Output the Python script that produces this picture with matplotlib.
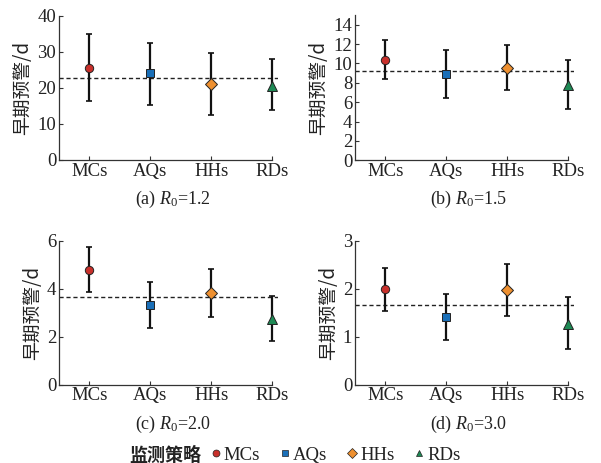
import numpy as np
import matplotlib.pyplot as plt
from matplotlib.lines import Line2D

plt.rcParams['font.family'] = ['Liberation Serif', 'Noto Sans CJK SC']
plt.rcParams['mathtext.fontset'] = 'custom'
plt.rcParams['mathtext.it'] = 'Liberation Serif:italic'
plt.rcParams['mathtext.rm'] = 'Liberation Serif'

strategies = ['MCs', 'AQs', 'HHs', 'RDs']
r0_labels = ['(a) $R_0$=1.2', '(b) $R_0$=1.5', '(c) $R_0$=2.0', '(d) $R_0$=3.0']

# early warning days: mean, upper and lower ends of the bars, overall mean
mean_a = [25.5, 24.1, 21.0, 20.6]
upper_a = [34.9, 32.6, 29.7, 28.0]
lower_a = [16.4, 15.4, 12.4, 13.9]
avg_a = 22.9

mean_b = [10.4, 8.9, 9.55, 7.75]
upper_b = [12.37, 11.43, 11.95, 10.36]
lower_b = [8.42, 6.38, 7.28, 5.34]
avg_b = 9.2

mean_c = [4.78, 3.33, 3.81, 2.75]
upper_c = [5.74, 4.29, 4.81, 3.69]
lower_c = [3.85, 2.37, 2.81, 1.81]
avg_c = 3.67

mean_d = [1.99, 1.42, 1.97, 1.26]
upper_d = [2.44, 1.90, 2.51, 1.82]
lower_d = [1.54, 0.94, 1.44, 0.74]
avg_d = 1.66

ylims = [40, 15, 6, 3]
yticks = [np.arange(0, 41, 10), np.arange(0, 15, 2), np.arange(0, 7, 2), np.arange(0, 4, 1)]

colors = ['#c8302b', '#1a6fb8', '#ee9030', '#1e8a55']
markers = ['o', 's', 'D', '^']
msizes = [6, 6, 6.5, 6.5]

panels = [(mean_a, upper_a, lower_a, avg_a),
          (mean_b, upper_b, lower_b, avg_b),
          (mean_c, upper_c, lower_c, avg_c),
          (mean_d, upper_d, lower_d, avg_d)]

W, H = 601, 463
fig = plt.figure(figsize=(W / 100, H / 100), dpi=100)

# axes boxes in pixels: left, top of ylim, bottom
boxes = [(59, 16, 160), (355, 15, 160.3), (59, 240.7, 384.7), (355, 240.7, 384.7)]
ax_w = 219

x = np.arange(1, 5)
for i, (m, up, lo, avg) in enumerate(panels):
    left, top, bottom = boxes[i]
    ax = fig.add_axes((left / W, 1 - bottom / H, ax_w / W, (bottom - top) / H))
    m = np.array(m)
    yerr = [m - np.array(lo), np.array(up) - m]
    ax.axhline(avg, color='#222222', ls=(0, (3, 2)), lw=1.0, zorder=1)
    for j in range(4):
        ax.errorbar(x[j], m[j], yerr=[[yerr[0][j]], [yerr[1][j]]], fmt='none',
                    ecolor='#111111', elinewidth=1.6, capsize=2.2, capthick=1.2, zorder=2)
        ax.plot(x[j], m[j], marker=markers[j], ms=msizes[j], color=colors[j],
                mec='#222222', mew=0.7, ls='none', zorder=3)
    ax.set_xlim(0.5, 4.1)
    ax.set_ylim(0, ylims[i])
    ax.set_xticks(x)
    ax.set_xticklabels(strategies)
    ax.set_yticks(yticks[i])
    ax.spines['top'].set_visible(False)
    ax.spines['right'].set_visible(False)
    ax.spines['bottom'].set_bounds(0.5, 4)
    for s in ('left', 'bottom'):
        ax.spines[s].set_color('#333333')
        ax.spines[s].set_linewidth(0.9)
    ax.tick_params(direction='in', length=3, width=0.8, color='#333333',
                   labelsize=13.5, labelcolor='#222222', pad=2)
    ax.set_ylabel('早期预警/d', fontsize=13.5, color='#222222', labelpad=3,
                  family=['Noto Sans CJK SC', 'Liberation Serif'])
    ax.annotate(r0_labels[i], xy=(0.5, 0), xycoords='axes fraction',
                xytext=(3, -28.5), textcoords='offset points',
                ha='center', va='center', fontsize=13, color='#222222')

# shared legend along the bottom
handles = [Line2D([], [], marker=markers[j], color=colors[j], mec='#222222', mew=0.5,
                  ms=5, ls='none', label=strategies[j]) for j in range(4)]
leg = fig.legend(handles=handles, loc='center left', bbox_to_anchor=(208 / W, 1 - 455 / H),
                 ncol=4, frameon=False, fontsize=13.5, handletextpad=0.05,
                 columnspacing=0.9, handlelength=0.8, borderpad=0, borderaxespad=0)
fig.text(165 / W, 1 - 455 / H, '监测策略', ha='center', va='center', fontsize=13,
         fontweight='bold', color='#222222', family=['Noto Sans CJK SC'])
for t in leg.get_texts():
    t.set_color('#222222')

fig.savefig('out.png', dpi=100)
